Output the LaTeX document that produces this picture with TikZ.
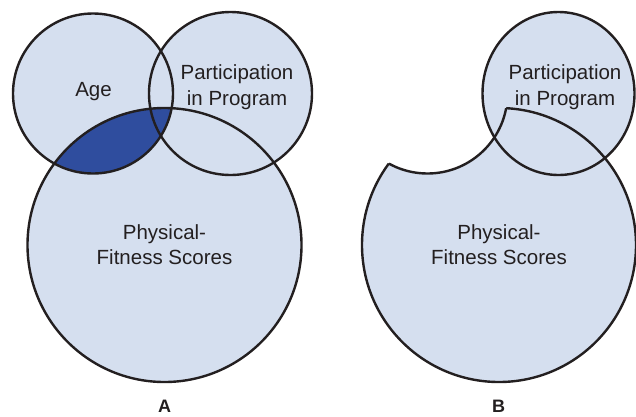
\documentclass[tikz,border=0pt]{standalone}
\usepackage{fontspec}
\setmainfont{Liberation Sans}
\definecolor{lightfill}{RGB}{213,223,239}
\definecolor{darkfill}{RGB}{47,77,158}
\definecolor{ink}{RGB}{35,31,32}
\begin{document}
\begin{tikzpicture}[x=1pt,y=-1pt,
  outline/.style={draw=ink,line width=2.4pt},
  lbl/.style={font=\fontsize{20.5}{25.5}\selectfont, text=ink, align=center, inner sep=0pt},
  panellbl/.style={font=\fontsize{18}{22}\selectfont\bfseries, text=ink, inner sep=0pt, anchor=base}]
\useasboundingbox (0,0) rectangle (636,416);
\coordinate (ageA) at (93,93.5);
\coordinate (partA) at (230.5,93.5);
\coordinate (physA) at (164.5,245);
\coordinate (ageB) at (427.5,93.5);
\coordinate (partB) at (558.5,93.5);
\coordinate (physB) at (499,245);
% ---------- Panel A ----------
\fill[lightfill] (ageA) circle[radius=80pt];
\fill[lightfill] (partA) circle[radius=81.5pt];
\fill[lightfill] (physA) circle[radius=137pt];
\begin{scope}
  \clip (ageA) circle[radius=80pt];
  \fill[darkfill] (physA) circle[radius=137pt];
\end{scope}
\draw[outline] (ageA) circle[radius=80pt];
\draw[outline] (partA) circle[radius=81.5pt];
\draw[outline] (physA) circle[radius=137pt];
% ---------- Panel B ----------
\begin{scope}
  \clip (physB) circle[radius=137pt];
  \fill[lightfill,even odd rule] (300,-10) rectangle (660,430) (ageB) circle[radius=80pt];
\end{scope}
\fill[lightfill] (partB) ellipse[x radius=76pt, y radius=81.5pt];
\begin{scope}[even odd rule]
  \clip (300,-10) rectangle (660,430) (ageB) circle[radius=80pt];
  \draw[outline] (physB) circle[radius=137pt];
\end{scope}
\begin{scope}
  \clip (physB) circle[radius=137pt];
  \draw[outline] (ageB) circle[radius=80pt];
\end{scope}
\draw[outline] (partB) ellipse[x radius=76pt, y radius=81.5pt];
% ---------- Labels ----------
\node[lbl] (agelbl) at (93.5,91.5) {Age};
\node[lbl] (partlblA) at (237,87) {Participation\\in Program};
\node[lbl] (physlblA) at (164.5,244.7) {Physical-\\Fitness Scores};
\node[lbl] (partlblB) at (565,87) {Participation\\in Program};
\node[lbl] (physlblB) at (499,244.7) {Physical-\\Fitness Scores};
\node[panellbl] (labA) at (164.5,412.5) {A};
\node[panellbl] (labB) at (498.5,412.5) {B};
\end{tikzpicture}
\end{document}
